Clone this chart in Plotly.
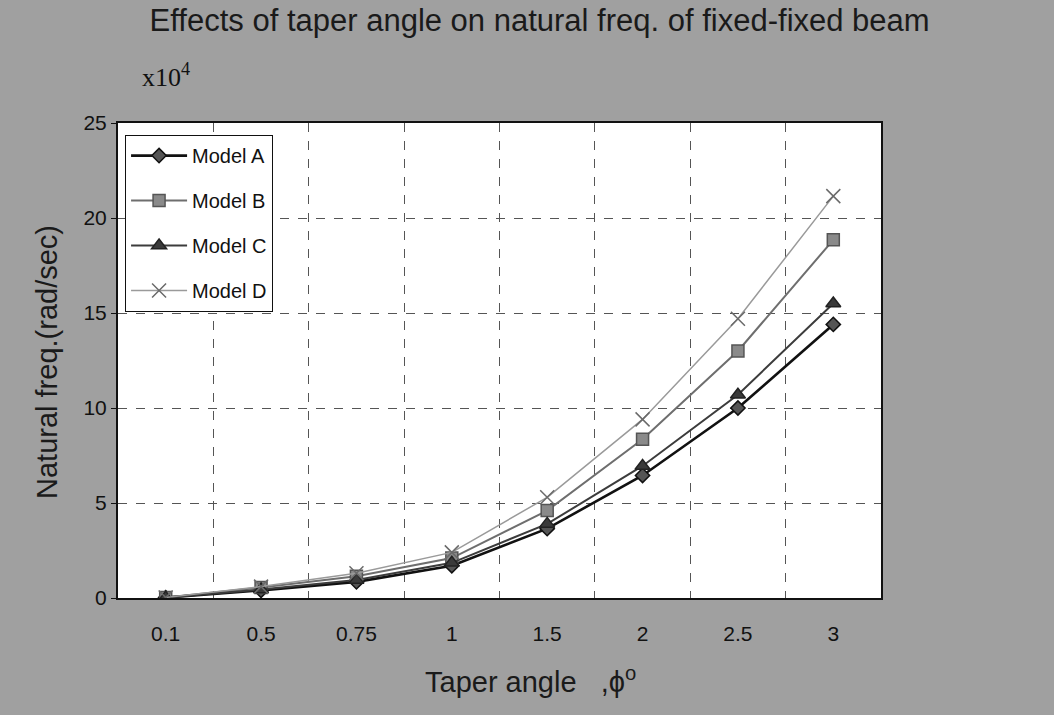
import plotly.graph_objects as go

categories = ["0.1", "0.5", "0.75", "1", "1.5", "2", "2.5", "3"]
model_a = [0.02, 0.40, 0.85, 1.70, 3.65, 6.45, 10.0, 14.4]
model_b = [0.03, 0.55, 1.15, 2.10, 4.60, 8.35, 13.0, 18.85]
model_c = [0.02, 0.45, 0.95, 1.85, 3.90, 6.95, 10.7, 15.5]
model_d = [0.03, 0.60, 1.30, 2.40, 5.30, 9.40, 14.7, 21.15]
y_ticks = [0, 5, 10, 15, 20, 25]

series = [
    ("Model A", model_a, "#111111", 2.6, "diamond", 11, "#555555", "#111111"),
    ("Model B", model_b, "#6e6e6e", 2.0, "square", 12, "#8a8a8a", "#555555"),
    ("Model C", model_c, "#3c3c3c", 2.0, "triangle-up", 13, "#3a3a3a", "#222222"),
    ("Model D", model_d, "#9a9a9a", 1.5, "x-thin", 14, "#6a6a6a", "#6a6a6a"),
]

fig = go.Figure()
for i, (name, vals, lc, lw, sym, ms, mc, mlc) in enumerate(series):
    fig.add_trace(go.Scatter(
        x=categories, y=vals, name=name, mode="lines+markers",
        legendgroup=name,
        line=dict(color=lc, width=lw),
        marker=dict(symbol=sym, size=ms, color=mc,
                    line=dict(color=mlc, width=1.5)),
    ))

fig.update_layout(
    width=1054, height=715,
    margin=dict(l=118, r=173, t=123, b=117),
    paper_bgcolor="#a0a0a0",
    plot_bgcolor="#ffffff",
    font=dict(family="Liberation Sans, Arial, sans-serif", color="#111111"),
    title=dict(
        text="Effects of taper angle on natural freq. of fixed-fixed beam",
        x=0.512, xanchor="center", y=0.972, yanchor="middle",
        font=dict(size=31, color="#1a1a1a"),
    ),
    showlegend=True,
    legend=dict(
        x=0.009, y=0.975, xanchor="left", yanchor="top",
        bgcolor="#ffffff", bordercolor="#111111", borderwidth=1.2,
        font=dict(size=20, color="#111111"),
        traceorder="grouped", tracegroupgap=16,
        itemwidth=56,
    ),
    xaxis=dict(
        type="category", categoryorder="array", categoryarray=categories,
        range=[-0.5, 7.5], tickson="boundaries",
        showgrid=True, gridcolor="#555555", griddash="dash", gridwidth=1,
        showline=True, linecolor="#111111", linewidth=2, mirror=True,
        ticks="", tickfont=dict(size=21, color="#111111"),
        ticklabelstandoff=16,
    ),
    yaxis=dict(
        range=[0, 25], tickvals=y_ticks,
        showgrid=True, gridcolor="#555555", griddash="dash", gridwidth=1,
        showline=True, linecolor="#111111", linewidth=2, mirror=True,
        ticks="outside", ticklen=5, tickcolor="#111111",
        tickfont=dict(size=21, color="#111111"),
        zeroline=False,
    ),
)

fig.add_annotation(
    text="Natural freq.(rad/sec)", xref="paper", yref="paper",
    x=(47 - 118) / 763, y=(598 - 362) / 475, xanchor="center", yanchor="middle",
    textangle=-90, showarrow=False, font=dict(size=29, color="#1a1a1a"),
)
fig.add_annotation(
    text="x10<sup>4</sup>", xref="paper", yref="paper",
    x=(140 - 118) / 763, y=(598 - 76) / 475, xanchor="left", yanchor="middle",
    showarrow=False, font=dict(family="Liberation Serif, Times New Roman, serif", size=26, color="#111111"),
)
fig.add_annotation(
    text="Taper angle   ,\u03d5<sup>o</sup>", xref="paper", yref="paper",
    x=(530 - 118) / 763, y=(598 - 680) / 475, xanchor="center", yanchor="middle",
    showarrow=False, font=dict(size=29, color="#1a1a1a"),
)

fig.write_html("out.html")
